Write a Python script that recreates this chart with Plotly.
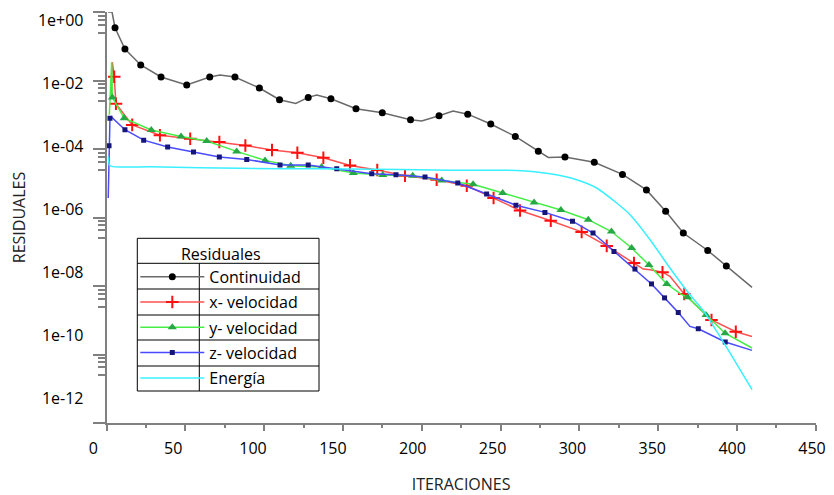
import plotly.graph_objects as go

# ---------------- data ----------------
cont_x = [1.0, 3.5, 5.4, 11.7, 21.7, 34.6, 50.9, 65.5, 72.0, 81.5, 97.0, 109.8, 120.1, 128.0, 133.4,
          142.4, 158.3, 167.2, 175.0, 192.9, 200.0, 211.0, 219.9, 229.2, 243.8, 259.4, 274.0, 280.3,
          290.9, 309.5, 327.4, 342.6, 354.8, 366.0, 381.5, 393.3, 409.6]
cont_y = [1.0, 1.0, 0.348, 0.0832, 0.0284, 0.01265, 0.0074, 0.01265, 0.01449, 0.01265, 0.00604, 0.00275,
          0.00214, 0.00321, 0.00378, 0.00294, 0.0015, 0.00131, 0.00115, 7.16e-4, 6.58e-4, 9.38e-4,
          1.285e-3, 1.04e-3, 5.37e-4, 2.33e-4, 8.63e-5, 5.69e-5, 5.87e-5, 4.12e-5, 1.81e-5, 6.4e-6,
          1.53e-6, 3.52e-7, 1.09e-7, 3.84e-8, 9.1e-9]
cont_mk = [0, 0, 1, 1, 1, 1, 1, 1, 0, 1, 1, 1, 0, 1, 0, 1, 1, 0, 1, 1, 0, 1, 0, 1, 1, 1, 1, 0,
           1, 1, 1, 1, 1, 1, 1, 1, 0]

xvel_x = [2.9, 3.7, 4.9, 6.0, 16.3, 33.9, 53.1, 71.6, 88.1, 105.0, 121.1, 137.6, 154.5, 171.8, 189.4,
          209.5, 228.6, 245.6, 262.4, 281.9, 301.5, 317.4, 334.7, 340.6, 344.9, 352.8, 357.5, 366.6,
          383.9, 399.3, 409.6]
xvel_y = [3.85e-3, 0.0342, 0.0129, 2.1e-3, 5.06e-4, 2.53e-4, 2.0e-4, 1.6e-4, 1.27e-4, 9.35e-5, 7.8e-5,
          5.57e-5, 3.32e-5, 2.44e-5, 1.66e-5, 1.27e-5, 8.47e-6, 3.71e-6, 1.6e-6, 8.05e-7, 3.8e-7,
          1.48e-7, 4.7e-8, 3.13e-8, 2.99e-8, 2.53e-8, 1.91e-8, 5.87e-9, 1.02e-9, 4.63e-10, 3.36e-10]
xvel_mk = [0, 0, 1, 1, 1, 1, 1, 1, 1, 1, 1, 1, 1, 1, 1, 1, 1, 1, 1, 1, 1, 1, 1, 0, 0, 1, 0, 1,
           1, 1, 0]

yvel_x = [1.8, 3.3, 3.7, 11.2, 28.4, 47.3, 63.6, 82.6, 100.6, 116.9, 136.5, 156.6, 175.3, 194.3,
          212.7, 232.6, 251.4, 271.3, 288.3, 305.7, 320.4, 333.2, 344.2, 355.5, 364.5, 368.7, 380.4,
          392.5, 409.6]
yvel_y = [1.0e-3, 0.0342, 3.21e-3, 7.93e-4, 3.59e-4, 2.32e-4, 1.71e-4, 8.51e-5, 4.65e-5, 3.25e-5,
          2.98e-5, 1.99e-5, 1.74e-5, 1.66e-5, 1.21e-5, 9.38e-6, 5.19e-6, 2.76e-6, 1.66e-6, 8.63e-7,
          3.9e-7, 1.29e-7, 4.13e-8, 1.14e-8, 5.77e-9, 4.71e-9, 1.43e-9, 4.19e-10, 1.55e-10]
yvel_mk = [0, 0, 1, 1, 1, 1, 1, 1, 1, 1, 1, 1, 1, 1, 1, 1, 1, 1, 1, 1, 1, 1, 1, 1, 0, 1, 1, 1, 0]

zvel_x = [1.1, 1.6, 2.2, 2.9, 11.7, 23.6, 38.8, 55.2, 71.6, 89.0, 110.1, 128.0, 146.1, 168.3, 183.7,
          202.1, 222.9, 241.2, 259.8, 278.2, 295.7, 308.7, 322.0, 335.3, 345.8, 354.1, 362.8, 370.2,
          375.5, 392.6, 409.6]
zvel_y = [3.71e-6, 1.25e-4, 7.93e-4, 8.77e-4, 3.66e-4, 1.81e-4, 1.14e-4, 8.22e-5, 5.83e-5, 4.97e-5,
          3.41e-5, 3.41e-5, 2.66e-5, 1.9e-5, 1.78e-5, 1.52e-5, 1.02e-5, 4.85e-6, 2.29e-6, 1.41e-6,
          7.8e-7, 3.52e-7, 1.02e-7, 3.13e-8, 1.15e-8, 4.5e-9, 1.68e-9, 6.61e-10, 5.66e-10, 2.32e-10,
          1.32e-10]
zvel_mk = [0, 1, 1, 0, 1, 1, 1, 1, 1, 1, 1, 1, 1, 1, 1, 1, 1, 1, 1, 1, 1, 1, 1, 1, 1, 1, 1, 0,
           1, 1, 0]

ener_x = [1.2, 2.2, 27.6, 59.3, 110.1, 154.5, 218.0, 260.3, 281.4, 298.4, 311.0, 323.7, 332.2, 344.9,
          357.6, 370.2, 379.8, 387.2, 395.6, 409.6]
ener_y = [5.96e-5, 3.25e-5, 3.04e-5, 2.84e-5, 2.66e-5, 2.62e-5, 2.4e-5, 2.37e-5, 1.9e-5, 1.27e-5,
          7.26e-6, 2.65e-6, 1.21e-6, 2.25e-7, 3.31e-8, 5.57e-9, 1.63e-9, 4.72e-10, 1.11e-10, 9.4e-12]

x_ticks = [0, 50, 100, 150, 200, 250, 300, 350, 400, 450]
y_ticks = [1e0, 1e-2, 1e-4, 1e-6, 1e-8, 1e-10, 1e-12]
y_tick_text = ["1e+00", "1e-02", "1e-04", "1e-06", "1e-08", "1e-10", "1e-12"]
minor_factors = [0.77, 0.6, 0.425, 0.25]

# ---------------- layout geometry ----------------
# the page body adds an 8 px offset; targets below are given in window pixels
OFF = 8
W, H = 834 - OFF, 495 - OFF
ML, MR, MT, MB = 80 - OFF, 15, 12 - OFF, 72
PW, PH = W - ML - MR, H - MT - MB


def fx(p):
    return (p - OFF - ML) / PW


def fy(p):
    return 1 - (p - OFF - MT) / PH


FONT = "Open Sans"
AX = "#808080"

fig = go.Figure()


def add_series(name, xs, ys, mk, color, lcolor, symbol, size, mline=0):
    sel = [i for i, m in enumerate(mk) if m]
    fig.add_trace(go.Scatter(
        x=xs, y=ys, name=name, mode="lines+markers", legendgroup=name,
        line=dict(color=lcolor, width=1.5),
        marker=dict(symbol=symbol, size=size, color=color,
                    line=dict(color=color, width=mline)),
        selectedpoints=sel,
        selected=dict(marker=dict(opacity=1)),
        unselected=dict(marker=dict(opacity=0)),
    ))


add_series("Continuidad", cont_x, cont_y, cont_mk, "#000000", "#6a6a6a", "circle", 7)
add_series("x- velocidad", xvel_x, xvel_y, xvel_mk, "#ff1010", "#ff5050", "cross-thin", 9, 2)
add_series("y- velocidad", yvel_x, yvel_y, yvel_mk, "#28a745", "#44ee44", "triangle-up", 8)
add_series("z- velocidad", zvel_x, zvel_y, zvel_mk, "#15157a", "#4a4aff", "square", 5)
fig.add_trace(go.Scatter(x=ener_x, y=ener_y, name="Energía", mode="lines", legendgroup="Energía",
                         line=dict(color="#38f0ff", width=1.5, shape="spline", smoothing=0.6)))

# label-only axes (the original draws its tick labels slightly offset from the tick marks)
fig.add_trace(go.Scatter(x=[None], y=[None], xaxis="x", yaxis="y2", showlegend=False, hoverinfo="skip"))
fig.add_trace(go.Scatter(x=[None], y=[None], xaxis="x2", yaxis="y", showlegend=False, hoverinfo="skip"))

minor_vals = [t * f for t in y_ticks[:-1] for f in minor_factors]

fig.update_layout(
    template="none",
    width=W, height=H,
    margin=dict(l=ML, r=MR, t=MT, b=MB, autoexpand=False),
    paper_bgcolor="white", plot_bgcolor="rgba(0,0,0,0)",
    font=dict(family=FONT, size=16, color="#000000"),
    showlegend=True,
    xaxis=dict(domain=[fx(106.5), fx(815.7)], range=[0, 450], showgrid=False, zeroline=False,
               automargin=False,
               showline=True, linecolor=AX, linewidth=1.5, ticks="outside", ticklen=6,
               tickcolor=AX, tickwidth=1.5, tickvals=x_ticks, showticklabels=False,
               minor=dict(ticks="outside", ticklen=3, tickcolor=AX, tickwidth=1.5, dtick=25, tick0=0,
                          showgrid=False),
               title=dict(text="ITERACIONES", standoff=50, font=dict(size=16, color="#222"))),
    yaxis=dict(type="log", range=[-12, 0], showgrid=False, zeroline=False, automargin=False,
               showline=True, linecolor=AX, linewidth=1.5, ticks="outside", ticklen=12,
               tickcolor=AX, tickwidth=1.5, tickvals=y_ticks, showticklabels=False,
               minor=dict(ticks="outside", ticklen=7, tickcolor=AX, tickwidth=1.5, tickvals=minor_vals,
                          showgrid=False)),
    xaxis2=dict(domain=[0, 1], range=[-8.33, 454.4], anchor="free", position=0, showgrid=False,
                zeroline=False, showline=False, ticks="", tickvals=x_ticks, automargin=False,
                ticklabelstandoff=14, tickfont=dict(size=16), ticklabeloverflow="allow"),
    yaxis2=dict(type="log", range=[-12.781, 0.2537], overlaying="y", anchor="x", showgrid=False,
                zeroline=False, showline=False, ticks="", tickvals=y_ticks, ticktext=y_tick_text,
                ticklabelstandoff=22, tickfont=dict(size=16), automargin=False,
                ticklabeloverflow="allow",
                title=dict(text="RESIDUALES", standoff=10, font=dict(size=16, color="#222"))),
    legend=dict(x=fx(135.3), y=fy(239), xanchor="left", yanchor="top",
                bgcolor="rgba(0,0,0,0)", borderwidth=0, font=dict(size=16),
                title=dict(text="Residuales", side="top center", font=dict(size=16)), itemwidth=64,
                tracegroupgap=1.5),
)

# table frame around the legend
shapes = []
lc = dict(color="#000000", width=1)
shapes.append(dict(type="rect", xref="paper", yref="paper", x0=fx(137.3), x1=fx(319),
                   y0=fy(391), y1=fy(238.3), line=lc))
for p in [263.3, 289, 315, 340, 366]:
    shapes.append(dict(type="line", xref="paper", yref="paper", x0=fx(137.3), x1=fx(319),
                       y0=fy(p), y1=fy(p), line=lc))
shapes.append(dict(type="line", xref="paper", yref="paper", x0=fx(199.3), x1=fx(199.3),
                   y0=fy(391), y1=fy(263.3), line=lc))
fig.update_layout(shapes=shapes)

fig.write_html("out.html")
